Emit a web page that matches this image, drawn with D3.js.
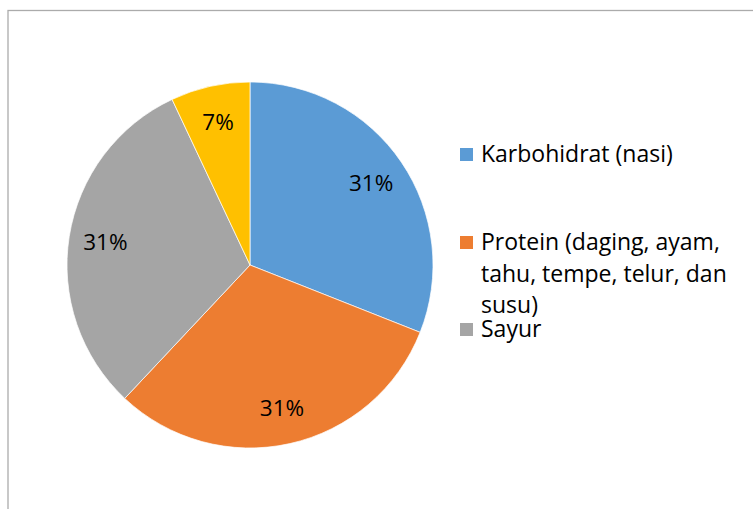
<!DOCTYPE html>
<html>
<head>
<meta charset="utf-8">
<script src="https://cdn.jsdelivr.net/npm/d3@7"></script>
<style>
	body { margin: 0; background: #fff; }
	svg text { font-family: "Open Sans", Lato, sans-serif; fill: #000; }
</style>
</head>
<body>
<svg id="chart" width="753" height="509"></svg>
<script>
// data
var categories = ["Karbohidrat (nasi)", "Protein (daging, ayam, tahu, tempe, telur, dan susu)", "Sayur", "Lainnya"];
var values = [31, 31, 31, 7];
var labels = ["31%", "31%", "31%", "7%"];
var colors = ["#5B9BD5", "#ED7D31", "#A5A5A5", "#FFC000"];
// legend text, already wrapped as in the picture (the 4th slice has no entry)
var legendLines = [["Karbohidrat (nasi)"], ["Protein (daging, ayam,", "tahu, tempe, telur, dan", "susu)"], ["Sayur"]];

var svg = d3.select("#chart");

// chart frame (only top and left edges show)
svg.append("rect")
	.attr("x", 8)
	.attr("y", 10.5)
	.attr("width", 800)
	.attr("height", 600)
	.attr("fill", "none")
	.attr("stroke", "#ababab")
	.attr("stroke-width", 1.3);

var cx = 250, cy = 265, r = 183;

var pie = d3.pie().sort(null).value(function(d) { return d; });
var arc = d3.arc().innerRadius(0).outerRadius(r);
var labelArc = d3.arc().innerRadius(r * 0.8).outerRadius(r * 0.8);

var g = svg.append("g")
	.attr("transform", "translate(" + cx + "," + cy + ")");

var arcs = pie(values);

g.selectAll("path")
	.data(arcs)
	.enter().append("path")
	.attr("d", arc)
	.attr("fill", function(d, i) { return colors[i]; })
	.attr("stroke", "#fff")
	.attr("stroke-width", 0.7);

g.selectAll("text")
	.data(arcs)
	.enter().append("text")
	.attr("transform", function(d) { return "translate(" + labelArc.centroid(d) + ")"; })
	.attr("text-anchor", "middle")
	.attr("dy", "0.36em")
	.attr("font-size", 22.5)
	.text(function(d, i) { return labels[i]; });

// legend
var legendY = [162, 250, 337];
var lineH = 31.5;
var legend = svg.append("g");

legendLines.forEach(function(lines, i) {
	var item = legend.append("g");
	item.append("rect")
		.attr("x", 460)
		.attr("y", legendY[i] - 14)
		.attr("width", 13)
		.attr("height", 13)
		.attr("fill", colors[i]);
	item.append("text")
		.attr("x", 481)
		.attr("y", legendY[i])
		.attr("font-size", 23)
		.selectAll("tspan")
		.data(lines)
		.enter().append("tspan")
		.attr("x", 481)
		.attr("dy", function(d, j) { return j === 0 ? 0 : lineH; })
		.text(function(d) { return d; });
});
</script>
</body>
</html>
